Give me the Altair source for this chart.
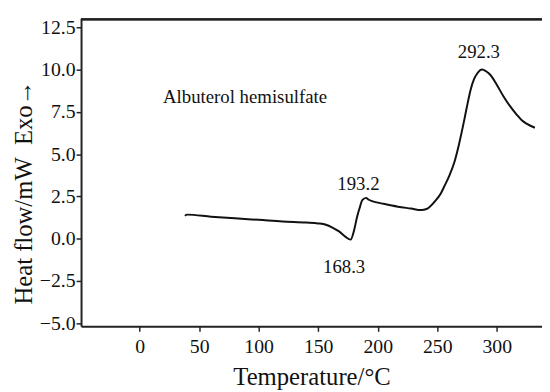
import altair as alt
import pandas as pd

temps = [38, 40, 60, 80, 100, 120, 140, 150, 156.5, 162, 167.5, 173, 177.2, 180, 182.7, 185, 187, 190.2,
         192.5, 195.2, 205, 217, 228, 236.6, 241, 247.7, 253, 256, 260, 264.3, 268, 272.5, 275.5, 278,
         281, 283.6, 287.7, 291, 294.7, 300, 305.7, 311, 316.7, 321, 325, 332]
heat = [1.35, 1.42, 1.30, 1.20, 1.11, 1.01, 0.95, 0.90, 0.82, 0.65, 0.43, 0.10, -0.06, 0.45, 1.30, 1.85,
        2.28, 2.41, 2.30, 2.22, 2.06, 1.89, 1.78, 1.69, 1.75, 2.18, 2.67, 3.10, 3.70, 4.50, 5.50, 6.95,
        8.00, 8.80, 9.45, 9.77, 10.0, 9.9, 9.68, 9.1, 8.41, 7.85, 7.34, 7.0, 6.8, 6.56]

label_text = ["Albuterol hemisulfate", "193.2", "168.3", "292.3"]
label_x = [19.7, 183.8, 171.8, 285]
label_y = [8.0, 2.86, -2.04, 10.69]
label_align = ["left", "center", "center", "center"]

x_ticks = [0, 50, 100, 150, 200, 250, 300]
y_ticks = [-5.0, -2.5, 0.0, 2.5, 5.0, 7.5, 10.0, 12.5]

X_DOMAIN = [-49.2, 338]
Y_DOMAIN = [-5.19, 13.03]
W, H = 467, 312
FONT = "Liberation Serif"

curve = pd.DataFrame({"t": temps, "h": heat})
labels = pd.DataFrame({"text": label_text, "t": label_x, "h": label_y, "align": label_align})

xscale = alt.Scale(domain=X_DOMAIN, nice=False, zero=False)
yscale = alt.Scale(domain=Y_DOMAIN, nice=False, zero=False)

line = alt.Chart(curve).mark_line(color="#111111", strokeWidth=2, interpolate="monotone").encode(
    x=alt.X("t:Q", scale=xscale, title="Temperature/°C",
            axis=alt.Axis(values=x_ticks, grid=False, tickSize=5, labelPadding=21,
                          labelBaseline="alphabetic", titleY=59, titleBaseline="alphabetic")),
    y=alt.Y("h:Q", scale=yscale, title="Heat flow/mW\u00a0\u00a0Exo\u2192",
            axis=alt.Axis(values=y_ticks, format=".1f", grid=False, tickSize=5, labelPadding=1,
                          titleX=-58, titleY=176, titleAngle=-90, titleBaseline="middle",
                          titleAlign="center")),
)

txt_left = alt.Chart(labels[labels["align"] == "left"]).mark_text(
    font=FONT, fontSize=19, color="#111111", align="left", baseline="alphabetic").encode(
    x=alt.X("t:Q", scale=xscale), y=alt.Y("h:Q", scale=yscale), text="text:N")
txt_center = alt.Chart(labels[labels["align"] == "center"]).mark_text(
    font=FONT, fontSize=19, color="#111111", align="center", baseline="alphabetic").encode(
    x=alt.X("t:Q", scale=xscale), y=alt.Y("h:Q", scale=yscale), text="text:N")

top = alt.Chart(labels).mark_rule(color="#222222", strokeWidth=2).encode(
    x=alt.value(0), x2=alt.value(W), y=alt.value(1))

chart = alt.layer(line, top, txt_left, txt_center).properties(
    width=W, height=H,
    autosize=alt.AutoSizeParams(type="none"),
    padding={"left": 74, "top": 8, "right": 0, "bottom": 64},
).configure_view(stroke=None).configure_axis(
    domainColor="#222222", domainWidth=2, tickColor="#222222", tickWidth=1.5,
    labelFont=FONT, labelFontSize=20, labelColor="#111111",
    titleFont=FONT, titleFontSize=25, titleColor="#111111", titleFontWeight="normal",
)

chart.save("out.html", embed_options={"renderer": "svg", "actions": False})
